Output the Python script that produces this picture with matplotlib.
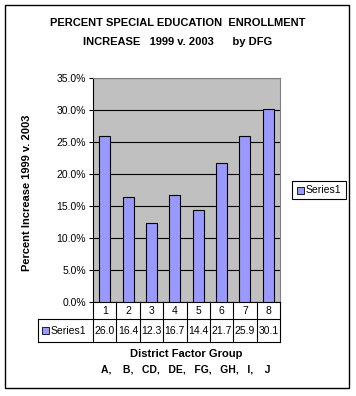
import matplotlib
matplotlib.use('Agg')
import matplotlib.pyplot as plt
from matplotlib.patches import Rectangle
from matplotlib.lines import Line2D
from matplotlib.transforms import blended_transform_factory
from matplotlib.ticker import FuncFormatter, MultipleLocator

categories = ['1', '2', '3', '4', '5', '6', '7', '8']
values = [26.0, 16.4, 12.3, 16.7, 14.4, 21.7, 25.9, 30.1]
series_name = 'Series1'
dfg_labels = 'A,    B,   CD,   DE,   FG,   GH,   I,    J'

W, H = 356, 396
plt.rcParams['font.family'] = ['Liberation Sans', 'DejaVu Sans']
fig = plt.figure(figsize=(W / 100, H / 100), dpi=100)
fig.patch.set_facecolor('white')

def fx(px):
    return px / W

def fy(py):
    return 1 - py / H

# outer border
fig.add_artist(Rectangle((fx(5), fy(388)), fx(344), (383) / H, fill=False,
                         edgecolor='black', linewidth=1, transform=fig.transFigure))

left, right, top, bottom = 93, 280, 78, 302
ax = fig.add_axes([fx(left), fy(bottom), fx(right - left), (bottom - top) / H])
ax.set_facecolor('#C0C0C0')
xs = list(range(len(values)))
ax.bar(xs, values, width=0.47, color='#9999FF', edgecolor='black', linewidth=0.8, zorder=3)
ax.set_xlim(-0.5, len(values) - 0.5)
ax.set_ylim(0, 35)
ax.yaxis.set_major_locator(MultipleLocator(5))
ax.yaxis.set_major_formatter(FuncFormatter(lambda v, p: '%.1f%%' % v))
ax.grid(axis='y', color='black', linewidth=0.8, zorder=1)
ax.set_xticks([])
ax.tick_params(axis='y', length=3, width=0.8, labelsize=7.5, pad=2, direction='out')
for s in ['top', 'right']:
    ax.spines[s].set_color('#808080')
ax.spines['left'].set_linewidth(0.8)
ax.spines['bottom'].set_linewidth(0.8)
fig.text(fx(27), fy(193), 'Percent Increase 1999 v. 2003', rotation=90, ha='center',
         va='center', fontsize=8, fontweight='bold')

# data table under the plot
tr = blended_transform_factory(ax.transData, ax.transAxes)
ah = bottom - top
r1 = -(319 - bottom) / ah
r2 = -(342 - bottom) / ah
unit = (right - left) / len(values)
x_lab = -0.5 - (left - 38) / unit
n = len(values)
lines = [
    ([-0.5, n - 0.5], [r1, r1]),
    ([x_lab, n - 0.5], [r2, r2]),
    ([x_lab, -0.5], [r1, r1]),
    ([x_lab, x_lab], [r1, r2]),
]
for i in range(n + 1):
    lines.append(([i - 0.5, i - 0.5], [0, r2]))
for lx, ly in lines:
    ax.add_line(Line2D(lx, ly, color='black', linewidth=0.8, transform=tr, clip_on=False))
for i, (c, v) in enumerate(zip(categories, values)):
    ax.text(i, (0 + r1) / 2, c, transform=tr, ha='center', va='center', fontsize=7.5)
    ax.text(i, (r1 + r2) / 2, '%.1f' % v, transform=tr, ha='center', va='center', fontsize=7.5)
ax.add_patch(Rectangle((x_lab + 4 / unit, (r1 + r2) / 2 - 3.5 / ah), 7 / unit, 7 / ah,
                       facecolor='#9999FF', edgecolor='black', linewidth=0.6,
                       transform=tr, clip_on=False))
ax.text(x_lab + 13 / unit, (r1 + r2) / 2, series_name, transform=tr, ha='left', va='center',
        fontsize=7.5)

# legend
fig.add_artist(Rectangle((fx(292), fy(199)), fx(54), 18 / H, fill=False, edgecolor='black',
                         linewidth=0.8, transform=fig.transFigure))
fig.add_artist(Rectangle((fx(297), fy(193.5)), fx(7), 7 / H, facecolor='#9999FF',
                         edgecolor='black', linewidth=0.6, transform=fig.transFigure))
fig.text(fx(306), fy(190), series_name, ha='left', va='center', fontsize=7.5)

# titles
fig.text(fx(178), fy(23), 'PERCENT SPECIAL EDUCATION  ENROLLMENT', ha='center', va='center',
         fontsize=8, fontweight='bold')
fig.text(fx(178), fy(42), 'INCREASE   1999 v. 2003      by DFG', ha='center', va='center',
         fontsize=8, fontweight='bold')
fig.text(fx(186), fy(354), 'District Factor Group', ha='center', va='center',
         fontsize=8, fontweight='bold')
fig.text(fx(186), fy(369), dfg_labels, ha='center', va='center',
         fontsize=7.5, fontweight='bold')

fig.savefig('out.png', dpi=100)
